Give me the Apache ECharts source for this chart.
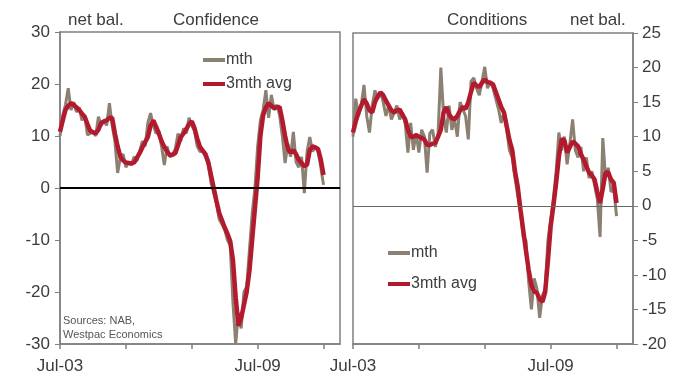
<!DOCTYPE html>
<html>
<head>
<meta charset="utf-8">
<script src="https://cdn.jsdelivr.net/npm/echarts@6/dist/echarts.min.js"></script>
<style>
  html, body { margin: 0; padding: 0; background: #fff; }
</style>
</head>
<body>
<div id="chart" style="width: 680px;height:380px;"></div>
<script>
// monthly categories Jul-03 .. Jan-12
const monthNames = ['Jan', 'Feb', 'Mar', 'Apr', 'May', 'Jun', 'Jul', 'Aug', 'Sep', 'Oct', 'Nov', 'Dec'];
const months = [];
for (let i = 0; i < 103; i++) {
  const m = (6 + i) % 12;
  const y = 3 + Math.floor((6 + i) / 12);
  months.push(monthNames[m] + '-' + String(y).padStart(2, '0'));
}
const xTickLabels = ['Jul-03', 'Jul-09'];

// business confidence, net balance
const confMth = [
  10, 14, 16, 19.2, 15, 16.5, 14.6, 15.5, 13, 14, 10.2, 10.5, 11, 10, 13.7, 12,
  13, 12, 16.3, 12, 9, 2.9, 6, 6.5, 4, 5, 4.5, 6, 5.2, 7, 9, 8,
  12.5, 14.4, 12, 10.5, 11, 8, 4.4, 8, 6, 6.5, 7.5, 10.5, 9, 11.5, 10.5, 13.5,
  12, 11, 8, 7, 7, 6, 4.5, 1, -1, -3, -6, -7, -8, -10, -11, -22,
  -30, -24, -27, -20, -19, -12, -5, 0, 8, 13, 15, 18.8, 13.5, 17.9, 15, 16,
  14, 10, 4.8, 8.5, 6, 10.8, 5, 4, 6, -1, 7, 9.8, 7, 8, 7, 4, 0.6
];
const confAvg = [
  10.8, 13, 15, 15.8, 16.3, 16, 15.5, 15, 14.3, 13.7, 12.3, 11, 10.7, 10.5, 11.2, 12.5,
  12.8, 13, 13.5, 13.5, 10.5, 8, 6, 5.3, 4.9, 4.8, 4.7, 4.9, 5.8, 6.7, 7.8, 8.8,
  9.8, 12, 13, 11.8, 10.5, 9, 7.9, 7, 6.3, 6.4, 6.7, 8.2, 9.8, 10.5, 11.3, 12.3,
  12.8, 11.5, 9.5, 7.9, 7.2, 6.5, 5, 2.5, 0, -2.5, -4.8, -6.2, -7.6, -8.8, -10.2, -13.8,
  -21, -26.5, -25, -22.5, -20, -16, -10, -4, 2, 10, 14, 15.5, 16.3, 15.8, 15.4, 15.5,
  15.6, 13, 10, 7.5, 6.8, 7.3, 6.5, 5.4, 4.8, 4.2, 4.5, 7.3, 8, 7.8, 7.5, 5.5, 2.5
];

// business conditions, net balance
const condMth = [
  10, 15.5, 13, 14.5, 17.5, 13, 10.6, 14.5, 16.7, 15.5, 16.5, 15, 13, 14.5, 12.5, 13.5,
  14.5, 12.5, 13.5, 12, 7.7, 12, 8.1, 10.5, 7.7, 11, 10, 4.8, 10.5, 11, 8.5, 10.5,
  20, 13, 10.6, 14.5, 11, 12.5, 10, 15, 14, 13, 9.6, 18, 18.5, 17, 16, 18,
  20.1, 17, 18, 17, 15.5, 14, 12, 13.5, 11, 8, 7, 4, 1.5, -1, -4.5, -5,
  -11, -15, -10.5, -12, -16.2, -13, -12, -5, -2, 1, 5, 10.6, 8, 10, 6, 9,
  12.5, 8, 7, 8.5, 5, 7, 4, 5, 3, 1, -4.5, 9.8, 4, 5.5, 2, 2.5, -1.5
];
const condAvg = [
  10.6, 12.2, 13.5, 14.5, 15.4, 14.8, 13.8, 13.5, 15, 15.8, 16.4, 16, 15.2, 14.5, 13.8, 13.5,
  13.8, 13.9, 13.2, 12.5, 11, 10, 10, 10.2, 10, 9.8, 9.6, 8.8, 8.8, 9, 9.1, 10,
  11, 13.5, 14.3, 13.2, 12.7, 12.5, 13, 13.8, 14.3, 14, 15, 16.5, 17.8, 17.4, 17.2, 17.8,
  18.3, 17.9, 17.8, 17.6, 16.5, 15.4, 14.3, 13.5, 11.5, 9.5, 8.1, 5, 2.8, -0.5, -3.5, -6.5,
  -9.3, -11.5, -12.4, -12.6, -13.5, -13.9, -12.5, -8, -3, 0, 3.3, 7.1, 9.6, 9.5, 7.7, 8.5,
  9.3, 9, 8.6, 7.5, 6.7, 5.7, 4.8, 4.4, 3.8, 2, 0.4, 2.5, 4.8, 4.8, 3.8, 3.3, 0.4
];

const textColor = '#3c3c3c';
const axisColor = '#808080';
const mthColor = '#8c8072';
const avgColor = '#b31a2e';

function makeXAxis(gridIndex) {
  return {
    type: 'category',
    gridIndex: gridIndex,
    data: months,
    boundaryGap: false,
    axisLine: { onZero: false, lineStyle: { color: axisColor, width: 1.5 } },
    axisTick: {
      alignWithLabel: true,
      interval: function(idx) { return idx % 24 === 0; },
      length: 5,
      lineStyle: { color: axisColor, width: 1.5 },
    },
    axisLabel: {
      interval: function(idx) { return xTickLabels.indexOf(months[idx]) >= 0; },
      fontSize: 17,
      color: textColor,
      margin: 14,
      fontFamily: 'Liberation Sans',
    },
    splitLine: { show: false },
  };
}

const option = {
  animation: false,
  backgroundColor: '#fff',
  textStyle: { fontFamily: 'Liberation Sans' },
  title: [
    { text: 'net bal.', left: 63, top: 7, textStyle: { fontSize: 17, fontWeight: 'normal', color: textColor } },
    { text: 'Confidence', left: 168, top: 7, textStyle: { fontSize: 17, fontWeight: 'normal', color: textColor } },
    { text: 'Conditions', left: 442, top: 7, textStyle: { fontSize: 17, fontWeight: 'normal', color: textColor } },
    { text: 'net bal.', left: 565, top: 7, textStyle: { fontSize: 17, fontWeight: 'normal', color: textColor } },
  ],
  legend: [
    {
      left: 198,
      top: 47,
      orient: 'vertical',
      itemGap: 8,
      itemWidth: 22,
      itemHeight: 4,
      icon: 'rect',
      data: ['mth', '3mth avg'],
      textStyle: { fontSize: 16, color: textColor, padding: [0, 0, 0, -4] },
    },
    {
      left: 383,
      top: 240,
      orient: 'vertical',
      itemGap: 15,
      itemWidth: 22,
      itemHeight: 4,
      icon: 'rect',
      data: ['mth', '3mth avg'],
      textStyle: { fontSize: 16, color: textColor, padding: [0, 0, 0, -4] },
    },
  ],
  graphic: [
    {
      type: 'text',
      left: 63,
      top: 314,
      style: {
        text: 'Sources: NAB,\nWestpac Economics',
        fontSize: 11,
        lineHeight: 14,
        fill: '#555',
        fontFamily: 'Liberation Sans',
      },
    },
  ],
  grid: [
    { left: 60, top: 32, width: 280, height: 312, show: true, borderColor: axisColor, borderWidth: 1.5 },
    { left: 353, top: 33, width: 280, height: 311, show: true, borderColor: axisColor, borderWidth: 1.5 },
  ],
  xAxis: [makeXAxis(0), makeXAxis(1)],
  yAxis: [
    {
      type: 'value',
      gridIndex: 0,
      position: 'left',
      min: -30,
      max: 30,
      interval: 10,
      axisLine: { show: true, lineStyle: { color: axisColor, width: 1.5 } },
      axisTick: { show: true, length: 5, lineStyle: { color: axisColor } },
      axisLabel: { fontSize: 17, color: textColor, margin: 10 },
      splitLine: { show: false },
    },
    {
      type: 'value',
      gridIndex: 1,
      position: 'right',
      min: -20,
      max: 25,
      interval: 5,
      axisLine: { show: true, lineStyle: { color: axisColor, width: 1.5 } },
      axisTick: { show: true, length: 5, lineStyle: { color: axisColor } },
      axisLabel: { fontSize: 17, color: textColor, margin: 9 },
      splitLine: { show: false },
    },
  ],
  series: [
    {
      name: 'mth',
      type: 'line',
      xAxisIndex: 0,
      yAxisIndex: 0,
      data: confMth,
      symbol: 'none',
      itemStyle: { color: mthColor },
      lineStyle: { color: mthColor, width: 3 },
      markLine: {
        silent: true,
        symbol: 'none',
        label: { show: false },
        lineStyle: { color: '#000', width: 1.8, type: 'solid' },
        data: [{ yAxis: 0 }],
      },
    },
    {
      name: '3mth avg',
      type: 'line',
      xAxisIndex: 0,
      yAxisIndex: 0,
      data: confAvg,
      symbol: 'none',
      itemStyle: { color: avgColor },
      lineStyle: { color: avgColor, width: 4.5 },
    },
    {
      name: 'mth',
      type: 'line',
      xAxisIndex: 1,
      yAxisIndex: 1,
      data: condMth,
      symbol: 'none',
      itemStyle: { color: mthColor },
      lineStyle: { color: mthColor, width: 3 },
      markLine: {
        silent: true,
        symbol: 'none',
        label: { show: false },
        lineStyle: { color: '#666', width: 1, type: 'solid' },
        data: [{ yAxis: 0 }],
      },
    },
    {
      name: '3mth avg',
      type: 'line',
      xAxisIndex: 1,
      yAxisIndex: 1,
      data: condAvg,
      symbol: 'none',
      itemStyle: { color: avgColor },
      lineStyle: { color: avgColor, width: 4.5 },
    },
  ],
};

const myChart = echarts.init(document.getElementById('chart'));
myChart.setOption(option);
</script>
</body>
</html>
